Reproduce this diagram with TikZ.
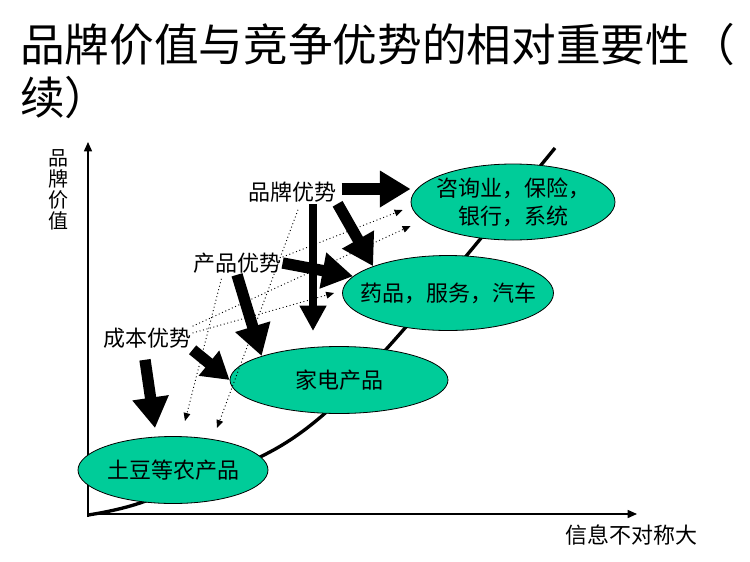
\documentclass[tikz,border=0pt]{standalone}
\usepackage{fontspec}
\setmainfont{Noto Sans CJK SC}
\usetikzlibrary{shapes.geometric, arrows.meta, calc}
\definecolor{marketgreen}{HTML}{00CC99}

\begin{document}
\begin{tikzpicture}[
    x=0.75pt, y=-0.75pt,
    fatarrow/.style={line width=8.5pt, -{Triangle[length=23pt, width=26pt]}},
    dotarrow/.style={dotted, line width=0.7pt, -{Triangle[length=6pt, width=5pt]}},
    axis/.style={line width=1.1pt, -{Triangle[length=7pt, width=6pt]}},
    market/.style={ellipse, draw, line width=0.6pt, fill=marketgreen, inner sep=0pt},
    markettext/.style={font=\fontsize{16.5}{21}\selectfont, align=center, inner sep=0pt},
    advantage/.style={font=\fontsize{16.5}{20}\selectfont, inner sep=1pt},
    axislabel/.style={font=\fontsize{15}{15.8}\selectfont, align=center, inner sep=1pt}
]
\useasboundingbox (0,0) rectangle (750,561);

% title
\node[anchor=west, inner sep=0pt, font=\fontsize{33.5}{38}\selectfont] (title1) at (20,45) {品牌价值与竞争优势的相对重要性（};
\node[anchor=west, inner sep=0pt, font=\fontsize{33.5}{38}\selectfont] (title2) at (20,98) {续）};

% axes
\coordinate (origin) at (88,517);
\coordinate (ytop) at (88,142);
\coordinate (xend) at (637,514);
\draw[axis] (origin) -- (ytop);
\draw[axis] (origin |- xend) -- (xend);
\node[axislabel] (ylabel) at (58,190) {品\\牌\\价\\值};
\node[axislabel, font=\fontsize{16.5}{18}\selectfont] (xlabel) at (631,535) {信息不对称大};

% curve
\draw[line width=2.5pt] plot[smooth] coordinates {(88,515) (140,503) (260,457) (323,415) (390,345) (467,255) (555,148)};

% markets
\node[market, minimum width=142.5pt, minimum height=50.25pt] (farm) at (173,470) {};
\node[markettext] at (farm) {土豆等农产品};
\node[market, minimum width=163.5pt, minimum height=50.25pt] (appliance) at (339,380) {};
\node[markettext] at (appliance) {家电产品};
\node[market, minimum width=158.25pt, minimum height=56.25pt] (pharma) at (448,293) {};
\node[markettext] at (pharma) {药品，服务，汽车};
\node[market, minimum width=153pt, minimum height=57pt] (consult) at (513,202) {};
\node[markettext] at (consult) {咨询业，保险，\\银行，系统};

% advantages
\node[advantage] (brand) at (292,192) {品牌优势};
\node[advantage] (product) at (237,263) {产品优势};
\node[advantage] (cost) at (147,338) {成本优势};

\coordinate (brandfall) at (217,428);
\coordinate (productfall) at (185,421);
\coordinate (brandtip) at (313,331);

\draw[dotarrow] (cost.north east) -- ($(consult.west)+(0,24)$);
\draw[dotarrow] ($(cost.east)+(0,-5)$) -- ($(pharma.west)+(-8,0)$);
\draw[dotarrow] ($(product.east)+(0,-6)$) -- ($(consult.west)+(-8,8)$);
\draw[dotarrow] ($(brand.south)+(6,6)$) -- (brandfall);
\draw[dotarrow] ($(product.south west)+(30,4)$) -- (productfall);

\draw[fatarrow] ($(brand.east)+(4,-3)$) -- ($(brand.east -| consult.west)+(0,-3)$);
\draw[fatarrow] (brand.south east) -- (pharma.north west);
\draw[fatarrow, line width=6pt, -{Triangle[length=19pt, width=19pt]}] (brandtip |- brand.south) -- (brandtip);
\draw[fatarrow] (product.east) -- (pharma.170);
\draw[fatarrow] (product.south) -- (appliance.north west);
\draw[fatarrow, -{Triangle[length=20pt, width=23pt]}] (cost.south east) -- (appliance.west);
\draw[fatarrow] ($(cost.south)+(-2,10)$) -- ($(farm.north)+(-18,-8)$);
\end{tikzpicture}
\end{document}
